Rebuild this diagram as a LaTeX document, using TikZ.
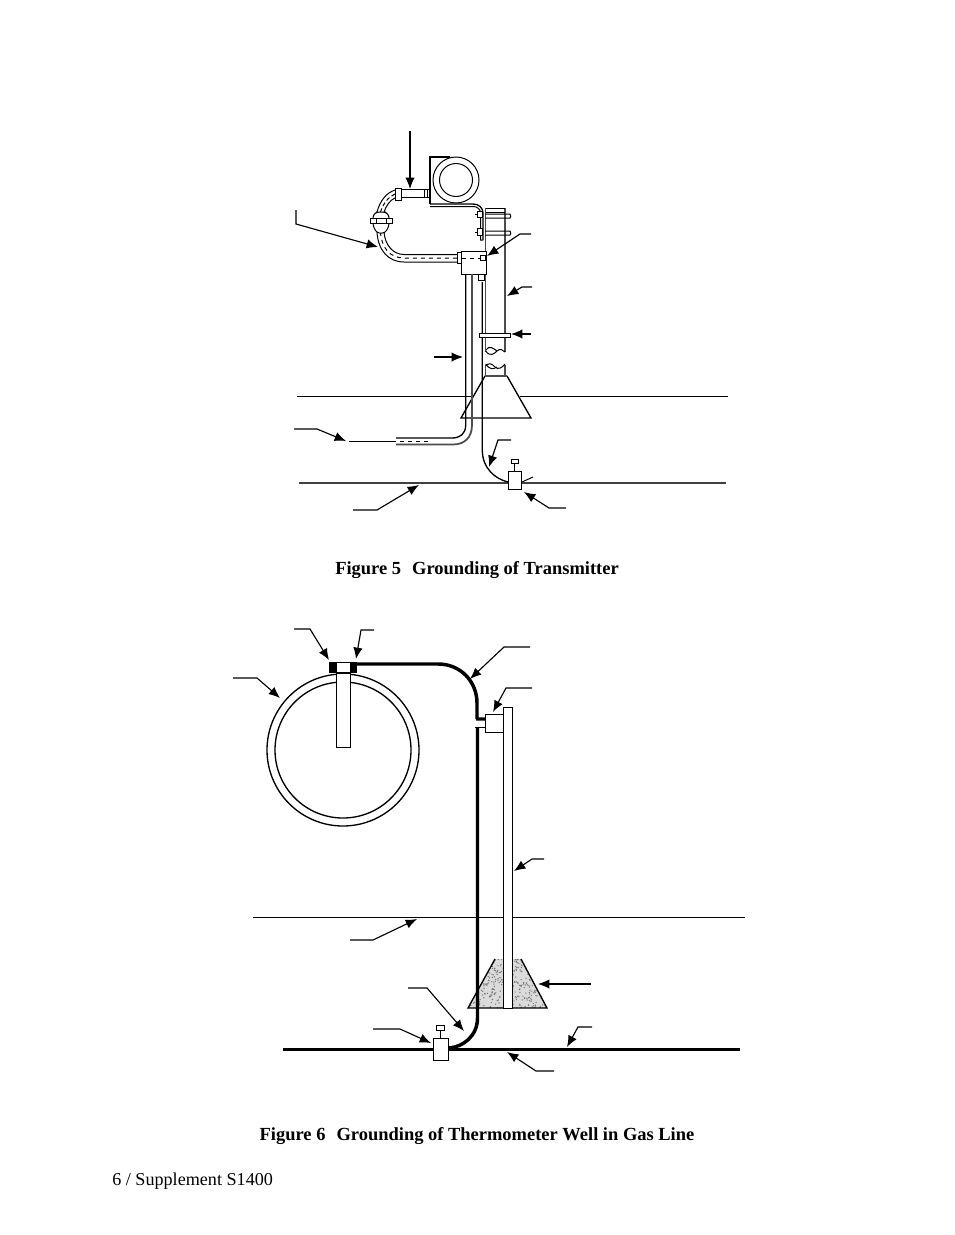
\documentclass[tikz,border=0pt]{standalone}
\usepackage{fontspec}
\setmainfont{Liberation Serif}
\usetikzlibrary{arrows.meta}
\tikzset{
  leader/.style={line width=0.85pt,-{Latex[length=8.5pt,width=7pt]}},
  thin line/.style={line width=0.75pt},
  med line/.style={line width=1.0pt},
  heavy/.style={line width=2.6pt},
  white box/.style={draw,line width=0.75pt,fill=white},
  caption/.style={font=\fontsize{13.85}{16}\selectfont\bfseries,inner sep=0pt},
  page/.style={font=\fontsize{13.6}{16}\selectfont,inner sep=0pt,anchor=west}
}
\begin{document}
\begin{tikzpicture}[x=0.75pt,y=-0.75pt]
\useasboundingbox (0,0) rectangle (954,1235);
\fill[white] (0,0) rectangle (954,1235);

%%% Figure 5
% ground lines
\draw[med line] (297,396.5) -- (472,396.5);
\draw[med line] (520,396.5) -- (728,396.5);
\draw[line width=1.1pt,black!75] (299,483) -- (726,483);
% pole
\draw[med line,black!70] (485.7,208) -- (485.7,352) (505,208) -- (505,352);
\draw[med line,black!70] (485.7,365) -- (485.7,376) (505,365) -- (505,376);
\draw[thin line] (485.7,208) -- (505,208) (485.7,212) -- (505,212);
% pole break
\draw[thin line] (485.7,351) .. controls (490,357) and (494,354) .. (497,351) .. controls (500,348) and (503,350) .. (505,352);
\draw[thin line] (485.7,366) .. controls (489,362) and (492,364) .. (495,367) .. controls (498,370) and (502,368) .. (505,364);
\draw[thin line] (485.7,364) .. controls (489,369) and (493,370) .. (497,367);
\draw[thin line] (486,350) .. controls (489,345) and (493,348) .. (497,351);
% base
\draw[med line] (485,376) -- (461,418) -- (531,418) -- (507,376);
\draw[line width=1.3pt,black!70] (485,376) -- (507,376);
% ground wire
\draw[med line] (482.3,282) -- (482.3,450) .. controls (482.3,468) and (495,479) .. (508,482);
\draw[thin line] (522,482) -- (533,477);
% strap
\draw[white box] (479.5,333.5) rectangle (510,337);
% U bolts and bracket
\draw[thin line] (485,214) -- (510,214) .. controls (511,216) and (511,217) .. (510,218) -- (485,218);
\draw[thin line] (485,231) -- (510,231) .. controls (511,233) and (511,234) .. (510,235) -- (485,235);
\draw[med line] (430,204) -- (473,204) .. controls (479,204) and (483,208) .. (483,213) -- (483,240);
\draw[thin line] (430,206.5) -- (473,206.5) .. controls (477,206.5) and (480.5,209) .. (480.5,213) -- (480.5,240) -- (483,240);
\draw[white box] (477.5,211.5) rectangle (482,217.5);
\draw[white box] (477.5,228.5) rectangle (482,235);
\draw[thin line] (475,214.5) -- (477.5,214.5) (475,232) -- (477.5,232);
% transmitter
\draw[med line] (450,157) -- (430,157) -- (430,204);
\draw[white box] (456,180) circle (23);
\draw[thin line] (456,180) circle (16.5);
% conduit upper
\draw[thin line] (401,189) -- (430,189) (401,197) -- (430,197);
\draw[thin line] (424,190) -- (424,197) (427,190) -- (427,197);
\draw[white box] (395,188) rectangle (401,200);
\draw[thin line] (395,190) .. controls (386,193) and (380,201) .. (377,212);
\draw[thin line] (395,198) .. controls (390,200) and (386,206) .. (384,212);
\draw[thin line,densely dashed] (395,194) .. controls (388,197) and (383,204) .. (380.5,212);
% conduit lower
\draw[thin line] (377,232) .. controls (378,250) and (388,262) .. (404,262) -- (457,262);
\draw[thin line] (384,232) .. controls (385,245) and (393,254.5) .. (404,254.5) -- (457,254.5);
\draw[thin line,dashed] (380.5,232) .. controls (381.5,248) and (390,258) .. (404,258) -- (457,258);
% union
\draw[white box,rounded corners=2pt] (373,215) -- (377,212) -- (385,212) -- (389,215) -- (389,226) -- (385,233) -- (377,233) -- (373,226) -- cycle;
\draw[white box] (370,218.5) rectangle (392,223.5);
\draw[thin line] (376,218.5) -- (376,223.5) (386,218.5) -- (386,223.5);
% junction box
\draw[white box] (457,252) rectangle (461.7,263);
\draw[white box] (461.7,251) rectangle (486,274);
\draw[thin line,dashed] (461.7,258) -- (480,258);
\draw[white box] (480.5,255) rectangle (485,260.5);
\draw[white box] (478.5,274) rectangle (484,280.5);
% conduit down
\draw[med line] (465.7,274) -- (465.7,425) .. controls (465.7,434) and (460,438) .. (452,438) -- (396,438);
\draw[line width=1.3pt,black!70] (472,274) -- (472,425) .. controls (472,437) and (465,444.5) .. (453,444.5) -- (396,444.5);
\draw[thin line,dashed] (400,441) -- (430,441);
% ground rod
\draw[thin line] (514.5,463) -- (514.5,471);
\draw[white box] (511,459) rectangle (518,463);
\draw[white box] (508.3,471) rectangle (521.7,489);
% leaders fig 5
\draw[leader] (410,131) -- (410,189);
\draw[leader] (296,210) -- (296,224) -- (378,247);
\draw[leader] (531,234) -- (520,234) -- (487,256);
\draw[leader] (532,287) -- (522,287) -- (507,296);
\draw[leader] (531,334) -- (511,334);
\draw[leader] (434,357) -- (463,357);
\draw[leader] (294,429) -- (317,429) -- (346,441);
\draw[thin line] (349,441) -- (396,441);
\draw[leader] (511,440) -- (498,440) -- (489,467);
\draw[leader] (353,510) -- (377,510) -- (419,485);
\draw[leader] (566,508) -- (549,508) -- (524,492);
\node[caption] (cap5) at (477,570) {Figure 5\hspace{0.6em}Grounding of Transmitter};

%%% Figure 6
\draw[thin line] (253,917.5) -- (745,917.5);
% base
\fill[black!14] (495,959) -- (468,1008) -- (547,1008) -- (521,959) -- cycle;
\begin{scope}
\clip (495,959) -- (468,1008) -- (547,1008) -- (521,959) -- cycle;
\pgfmathsetseed{11}
\foreach \k in {1,...,420} {
  \pgfmathsetmacro{\px}{468+79*rnd}
  \pgfmathsetmacro{\py}{959+49*rnd}
  \fill[black!55] (\px,\py) circle (0.7);
}
\end{scope}
\draw[med line] (495,959) -- (468,1008) -- (547,1008) -- (521,959);
% pole
\draw[white box] (503,707) rectangle (512,1008);
\draw[white box] (485.7,714) rectangle (503,732);
% pipe
\draw[med line] (343,750) circle (76);
\draw[med line] (343,750) circle (68);
\fill[white] (336,672) rectangle (350.5,684);
\draw[white box] (336,672) rectangle (350.5,747);
\fill[white] (337,673) rectangle (350,682);
% fitting
\fill (329,662) rectangle (336,673);
\fill (350.5,662) rectangle (357,673);
\draw[thin line] (336,662) rectangle (350.5,673);
% wire
\draw[heavy] (357,664) -- (438,664) .. controls (461,664) and (477,682) .. (477,703) -- (477,719) (476,719) -- (485.7,719);
\draw[thin line] (475,727) -- (485.7,727);
\draw[heavy] (477.5,727) -- (477.5,1018) .. controls (477.5,1036) and (463,1047) .. (449,1048);
% main line
\draw[line width=2.3pt] (283,1049.5) -- (740,1049.5);
% rod
\draw[thin line] (440.5,1030) -- (440.5,1038);
\draw[white box] (436.3,1025.5) rectangle (444.7,1030);
\draw[white box] (433.3,1038) rectangle (448.7,1060);
% leaders
\draw[leader] (294,629) -- (310,629) -- (329,660);
\draw[leader] (374,630) -- (361,630) -- (356,659);
\draw[leader] (233,678) -- (257,678) -- (280,698);
\draw[leader] (530,647) -- (504,647) -- (470,679);
\draw[leader] (532,688) -- (506,688) -- (493,712);
\draw[leader] (544,859) -- (532,859) -- (514,871);
\draw[leader] (350,940) -- (373,940) -- (417,919);
\draw[leader] (591,984) -- (538,984);
\draw[leader] (408,988) -- (427,988) -- (464,1031);
\draw[leader] (373,1029) -- (400,1029) -- (431,1043);
\draw[leader] (592,1027) -- (578,1027) -- (567,1047);
\draw[leader] (554,1071) -- (536,1071) -- (507,1052);
\node[caption] (cap6) at (477,1136) {Figure 6\hspace{0.6em}Grounding of Thermometer Well in Gas Line};
\node[page] (foot) at (112,1181) {6 / Supplement S1400};
\end{tikzpicture}
\end{document}
